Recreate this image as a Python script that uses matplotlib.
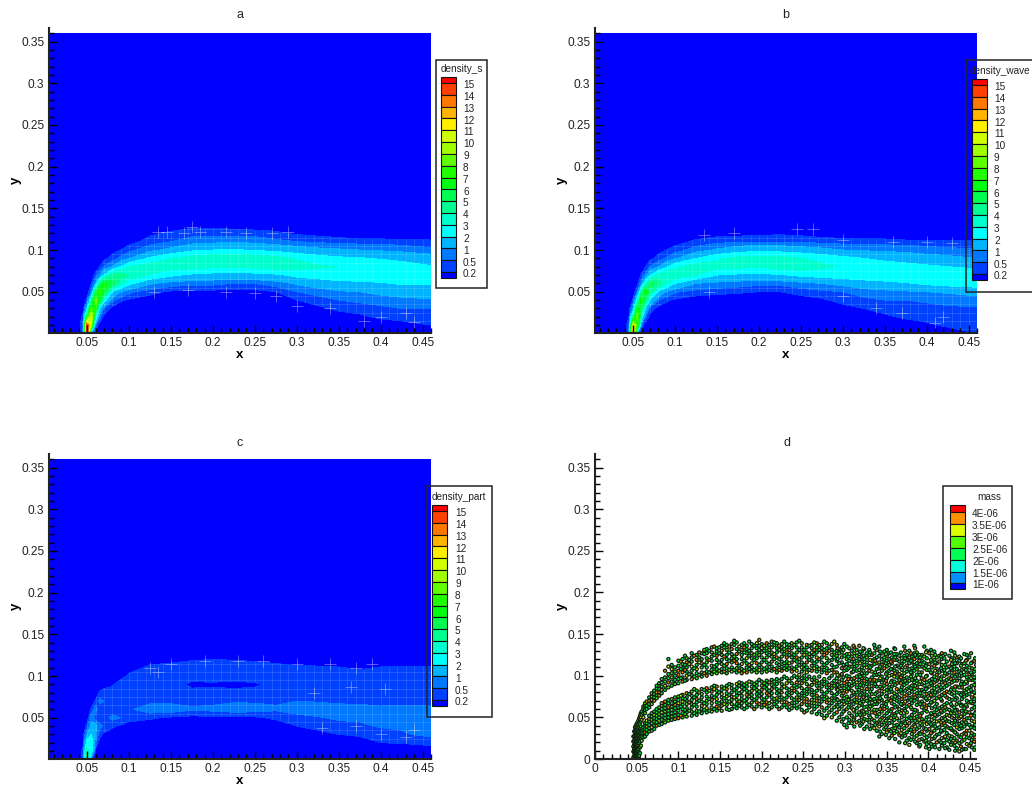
import matplotlib
matplotlib.use("Agg")
import matplotlib.pyplot as plt
from matplotlib.colors import BoundaryNorm, ListedColormap
from matplotlib.patches import Rectangle
from matplotlib.ticker import FixedLocator, FuncFormatter, MultipleLocator
import numpy as np

plt.rcParams['font.family'] = ['Liberation Sans', 'DejaVu Sans']

#----------------------------------------- data -------------------------------------
density_levels = [0.2, 0.5, 1, 2, 3, 4, 5, 6, 7, 8, 9, 10, 11, 12, 13, 14, 15]
density_colors = ['#0000ff', '#0040ff', '#0078ff', '#00b4ff', '#00ffff', '#00ffcc', '#00ff90', '#00ff50',
                  '#00ff10', '#20ff00', '#60ff00', '#a0ff00', '#d0ff00', '#ffee00', '#ffb400', '#ff7800',
                  '#ff4000', '#ff0000']
mass_levels = [1e-6, 1.5e-6, 2e-6, 2.5e-6, 3e-6, 3.5e-6, 4e-6]
mass_colors = ['#0000ff', '#0090ff', '#00ffdc', '#00ff50', '#50ff00', '#dcff00', '#ff9000', '#ff0000']
mass_labels = ['1E-06', '1.5E-06', '2E-06', '2.5E-06', '3E-06', '3.5E-06', '4E-06']

grid_x = [0.04, 0.045, 0.05, 0.055, 0.06, 0.065, 0.07, 0.08, 0.09, 0.1, 0.125, 0.15, 0.175, 0.2, 0.225,
          0.25, 0.275, 0.3, 0.325, 0.35, 0.375, 0.4, 0.425, 0.46]
grid_y = [0, 0.01, 0.02, 0.03, 0.04, 0.05, 0.06, 0.07, 0.08, 0.09, 0.1, 0.11, 0.12, 0.13]

# one row per grid_x value, columns follow grid_y
density_s = [
    [0, 0, 0, 0, 0, 0, 0, 0, 0, 0, 0, 0, 0, 0],
    [.5, .6, .3, 0, 0, 0, 0, 0, 0, 0, 0, 0, 0, 0],
    [16, 15, 6, 1.5, .3, 0, 0, 0, 0, 0, 0, 0, 0, 0],
    [1, 9, 11, 8, 3, .6, .2, 0, 0, 0, 0, 0, 0, 0],
    [0, .5, 3, 7, 9, 5, 1, .3, 0, 0, 0, 0, 0, 0],
    [0, 0, .6, 2, 6, 8, 4, .8, .2, 0, 0, 0, 0, 0],
    [0, 0, .1, .5, 2.5, 6, 6.5, 2, .5, .1, 0, 0, 0, 0],
    [0, 0, 0, .1, .6, 2, 5.5, 4.2, 1, .3, .1, 0, 0, 0],
    [0, 0, 0, 0, .25, 1, 3.5, 4.5, 2, .6, .2, 0, 0, 0],
    [0, 0, 0, 0, .15, .6, 2.3, 4, 3, 1, .35, .1, 0, 0],
    [0, 0, 0, 0, .05, .3, 1.1, 2.9, 3.6, 2.2, .8, .3, .15, 0],
    [0, 0, 0, 0, 0, .15, .7, 2.2, 3.5, 3, 1.2, .5, .25, .05],
    [0, 0, 0, 0, 0, .1, .6, 1.8, 3.4, 3.5, 1.8, .7, .35, .1],
    [0, 0, 0, 0, 0, .1, .6, 1.6, 3.2, 3.8, 2, .8, .35, .1],
    [0, 0, 0, 0, 0, .1, .5, 1.5, 3.1, 3.9, 2.1, .9, .3, .1],
    [0, 0, 0, 0, 0, .1, .5, 1.6, 3.3, 3.7, 1.9, .8, .3, .05],
    [0, 0, 0, 0, .05, .2, .7, 1.8, 3.5, 3.4, 1.7, .6, .25, .05],
    [0, 0, 0, 0, .2, .5, 1.1, 2.3, 3.4, 2.9, 1.4, .5, .15, 0],
    [0, 0, 0, .15, .3, .7, 1.4, 2.5, 3.1, 2.5, 1.2, .4, .1, 0],
    [0, 0, .1, .25, .5, .9, 1.7, 2.6, 3, 2.2, 1.1, .35, .05, 0],
    [0, 0, .15, .3, .6, 1, 1.8, 2.6, 2.9, 2.1, 1, .3, 0, 0],
    [0, .05, .25, .4, .7, 1.2, 1.9, 2.7, 2.8, 1.9, .9, .3, 0, 0],
    [0, .1, .3, .5, .8, 1.4, 2.1, 2.6, 2.5, 1.7, .8, .28, 0, 0],
    [.05, .2, .3, .5, .9, 1.5, 2.1, 2.4, 2.1, 1.4, .6, .25, 0, 0],
]
density_wave = [
    [0, 0, 0, 0, 0, 0, 0, 0, 0, 0, 0, 0, 0, 0],
    [.4, .5, .2, 0, 0, 0, 0, 0, 0, 0, 0, 0, 0, 0],
    [13, 11, 4, 1, .25, 0, 0, 0, 0, 0, 0, 0, 0, 0],
    [1, 7, 9, 6.5, 2.5, .5, .1, 0, 0, 0, 0, 0, 0, 0],
    [0, .4, 2.5, 5.5, 7.5, 4, .8, .25, 0, 0, 0, 0, 0, 0],
    [0, 0, .5, 1.6, 4.5, 7, 3, .7, .2, 0, 0, 0, 0, 0],
    [0, 0, .1, .4, 2, 4.5, 5.5, 1.8, .5, .1, 0, 0, 0, 0],
    [0, 0, 0, .1, .5, 1.8, 4.5, 3.3, .9, .3, .1, 0, 0, 0],
    [0, 0, 0, 0, .25, .9, 3.2, 4, 1.8, .55, .2, 0, 0, 0],
    [0, 0, 0, 0, .15, .55, 2, 3.8, 2.8, .9, .3, .1, 0, 0],
    [0, 0, 0, 0, .05, .35, 1, 3, 3.6, 2, .7, .25, .05, 0],
    [0, 0, 0, 0, 0, .3, .8, 2, 3.4, 2.8, 1.1, .35, .1, 0],
    [0, 0, 0, 0, 0, .25, .7, 1.8, 3.3, 3.3, 1.5, .4, .1, 0],
    [0, 0, 0, 0, 0, .2, .6, 1.7, 3.1, 3.5, 1.7, .45, .12, 0],
    [0, 0, 0, 0, 0, .2, .6, 1.9, 3.5, 3.4, 1.6, .45, .15, .05],
    [0, 0, 0, 0, .08, .3, .8, 2.2, 3.6, 3.1, 1.4, .4, .12, .05],
    [0, 0, 0, 0, .15, .4, 1, 2.4, 3.2, 2.7, 1.2, .35, .05, 0],
    [0, 0, 0, .1, .3, .5, 1.2, 2.6, 2.9, 2.3, 1, .3, .05, 0],
    [0, 0, .05, .2, .4, .7, 1.5, 2.7, 2.7, 2, .9, .3, 0, 0],
    [0, 0, .15, .3, .5, .8, 1.7, 2.8, 2.6, 1.7, .85, .3, 0, 0],
    [0, .05, .25, .35, .5, .9, 1.9, 2.8, 2.4, 1.5, .8, .25, 0, 0],
    [0, .15, .3, .4, .55, 1, 2.2, 2.9, 2.2, 1.3, .7, .25, 0, 0],
    [.05, .25, .35, .45, .6, 1.1, 2.4, 2.8, 2, 1.2, .6, .25, 0, 0],
    [.2, .3, .35, .45, .7, 1.3, 2.6, 2.6, 1.8, 1, .55, .22, 0, 0],
]
density_part = [
    [0, 0, 0, 0, 0, 0, 0, 0, 0, 0, 0, 0, 0, 0],
    [.3, .3, .1, 0, 0, 0, 0, 0, 0, 0, 0, 0, 0, 0],
    [4.5, 4, 2.5, 1, .3, 0, 0, 0, 0, 0, 0, 0, 0, 0],
    [.3, 2.5, 3, 2, 1.2, .8, .25, 0, 0, 0, 0, 0, 0, 0],
    [0, .1, .5, 1, 1.2, .3, .7, .25, 0, 0, 0, 0, 0, 0],
    [0, 0, .05, .3, .6, .25, .3, .6, .25, 0, 0, 0, 0, 0],
    [0, 0, 0, .15, .45, .35, .2, .5, .3, .1, 0, 0, 0, 0],
    [0, 0, 0, .05, .25, .6, .3, .3, .35, .15, 0, 0, 0, 0],
    [0, 0, 0, 0, .15, .5, .4, .35, .4, .35, .1, 0, 0, 0],
    [0, 0, 0, 0, .05, .35, .45, .35, .35, .4, .25, .1, 0, 0],
    [0, 0, 0, 0, 0, .25, .7, .4, .35, .35, .4, .25, .1, 0],
    [0, 0, 0, 0, 0, .15, .7, .4, .35, .4, .35, .3, .12, 0],
    [0, 0, 0, 0, 0, .1, .55, .4, .3, .12, .35, .3, .18, 0],
    [0, 0, 0, 0, 0, .12, .6, .4, .3, .15, .35, .35, .2, 0],
    [0, 0, 0, 0, 0, .1, .7, .45, .3, .1, .35, .35, .18, 0],
    [0, 0, 0, 0, 0, .15, .65, .45, .3, .15, .4, .35, .15, 0],
    [0, 0, 0, 0, .05, .25, .55, .45, .35, .3, .35, .3, .1, 0],
    [0, 0, 0, 0, .2, .35, .7, .5, .35, .35, .35, .25, .05, 0],
    [0, 0, 0, .1, .3, .45, .8, .45, .35, .35, .3, .25, 0, 0],
    [0, 0, 0, .2, .3, .6, .7, .4, .35, .35, .3, .22, 0, 0],
    [0, 0, .05, .25, .4, .6, .65, .4, .35, .4, .35, .15, 0, 0],
    [0, 0, .2, .3, .55, .6, .6, .35, .35, .35, .3, .22, 0, 0],
    [0, 0, .22, .45, .55, .55, .65, .35, .3, .35, .3, .25, 0, 0],
    [0, .1, .25, .6, .6, .6, .6, .35, .3, .3, .3, .25, 0, 0],
]

# pale mesh crosses sticking out of the bands
cross_a_x = [.135, .145, .165, .175, .185, .215, .24, .27, .29, .13, .17, .215, .25, .275, .3, .34, .38, .4, .43, .44]
cross_a_y = [.122, .122, .12, .128, .122, .122, .12, .12, .122, .05, .052, .05, .048, .045, .033, .03, .015, .02, .025, .014]
cross_b_x = [.135, .17, .245, .265, .3, .36, .4, .43, .14, .3, .34, .37, .42, .41]
cross_b_y = [.118, .12, .125, .125, .112, .11, .11, .108, .05, .045, .03, .025, .02, .012]
cross_c_x = [.125, .135, .15, .19, .23, .26, .3, .34, .37, .39, .405, .365, .33, .37, .4, .43, .44, .32]
cross_c_y = [.11, .105, .115, .118, .118, .118, .115, .115, .11, .115, .085, .087, .038, .04, .03, .027, .035, .08]

# panel d particles: x of each column, y of its points in thousandths
col_x = [.046, .047, .048, .049, .05, .051, .052, .053, .054, .055, .056, .058, .06, .062, .065, .068, .071,
         .074, .077, .08, .084, .088, .092, .096, .1, .105, .11, .116, .122, .128, .134, .14, .146, .152, .158,
         .164, .17, .176, .182, .188, .194, .2, .206, .212, .218, .224, .23, .236, .242, .248, .254, .26, .266,
         .272, .278, .284, .29, .296, .302, .308, .314, .32, .326, .332, .338, .344, .35, .356, .362, .368,
         .374, .38, .386, .392, .398, .404, .41, .416, .422, .428, .434, .44, .446, .452, .457]
col_y = [
    [2, 9, 15, 21, 27], [0, 4, 8, 12, 17, 22, 27, 33], [1, 3, 6, 9, 12, 15, 18, 21, 25, 29, 34, 38],
    [0, 2, 4, 7, 10, 13, 16, 19, 22, 26, 30, 35, 40], [1, 3, 5, 8, 11, 14, 17, 20, 24, 28, 32, 37, 42],
    [0, 2, 4, 6, 9, 12, 15, 18, 21, 25, 29, 33, 38, 44], [1, 3, 6, 9, 12, 16, 20, 24, 28, 32, 36, 41, 46],
    [0, 4, 8, 14, 19, 24, 29, 33, 38, 44, 49], [7, 14, 21, 26, 31, 36, 42, 47, 52],
    [16, 24, 29, 34, 39, 45, 50, 55], [22, 27, 31, 36, 47, 53, 57], [26, 31, 35, 38, 50, 55, 60, 63],
    [27, 32, 36, 40, 43, 55, 59, 64, 67], [30, 35, 39, 43, 46, 60, 64, 69],
    [33, 37, 41, 45, 48, 52, 62, 66, 70, 74], [34, 38, 43, 47, 51, 55, 66, 71, 75, 79],
    [36, 40, 45, 49, 53, 57, 70, 74, 78, 82], [40, 44, 48, 52, 56, 60, 73, 77, 80, 85, 88],
    [41, 46, 50, 54, 58, 62, 76, 80, 84, 88, 91], [42, 47, 52, 56, 60, 64, 67, 79, 83, 87, 92, 96],
    [44, 49, 53, 57, 61, 65, 69, 83, 88, 93, 98, 106], [46, 50, 54, 58, 62, 67, 71, 86, 92, 97, 102, 111, 120],
    [47, 51, 55, 59, 63, 67, 72, 88, 93, 98, 103, 108, 113], [48, 52, 56, 61, 65, 69, 74, 90, 95, 100, 105, 110],
    [49, 53, 58, 62, 67, 71, 75, 91, 96, 101, 106, 112, 118], [50, 55, 60, 65, 69, 73, 77, 93, 98, 104, 109, 114, 120],
    [51, 56, 61, 66, 70, 74, 79, 95, 100, 105, 110, 116, 121], [52, 57, 62, 66, 71, 76, 81, 96, 101, 106, 111, 117, 122, 127],
    [53, 58, 63, 68, 72, 77, 82, 97, 103, 108, 113, 119, 125], [55, 60, 64, 69, 74, 78, 84, 99, 104, 110, 115, 120, 127],
    [56, 61, 66, 70, 75, 80, 85, 100, 105, 110, 116, 121, 127, 132], [57, 62, 67, 71, 76, 81, 86, 102, 107, 112, 118, 123, 128, 134],
    [58, 63, 68, 72, 77, 82, 87, 103, 108, 113, 119, 124, 129, 133], [58, 64, 69, 74, 78, 83, 87, 104, 108, 114, 119, 125, 130, 136],
    [60, 65, 70, 75, 79, 84, 88, 103, 109, 114, 120, 125, 131, 137], [60, 66, 71, 75, 80, 85, 89, 105, 110, 116, 121, 126, 132, 138],
    [61, 66, 71, 76, 80, 85, 90, 104, 109, 115, 120, 126, 132, 140], [62, 67, 72, 76, 81, 86, 91, 103, 108, 114, 120, 125, 131, 137],
    [62, 67, 72, 77, 82, 87, 91, 104, 110, 115, 121, 127, 132, 136], [63, 68, 73, 77, 82, 87, 92, 105, 110, 115, 121, 127, 133, 138],
    [63, 68, 73, 78, 83, 88, 92, 104, 109, 115, 121, 127, 133, 139], [62, 68, 73, 78, 83, 88, 93, 104, 110, 116, 122, 128, 133, 138],
    [63, 68, 74, 79, 84, 89, 94, 105, 110, 116, 122, 127, 133, 139], [62, 69, 74, 79, 84, 89, 95, 106, 111, 117, 123, 128, 134, 141],
    [63, 68, 73, 79, 84, 90, 96, 104, 109, 115, 122, 128, 133, 139], [62, 68, 74, 80, 85, 90, 96, 106, 111, 117, 123, 129, 134, 138],
    [62, 68, 74, 79, 85, 91, 97, 107, 112, 117, 122, 128, 134, 138], [61, 67, 73, 79, 85, 91, 97, 105, 110, 116, 122, 127, 133, 139],
    [61, 68, 74, 80, 86, 92, 98, 106, 111, 117, 122, 128, 134, 140], [59, 66, 73, 79, 85, 91, 97, 105, 110, 116, 122, 128, 134, 139],
    [58, 65, 72, 78, 84, 90, 96, 104, 110, 116, 122, 128, 134, 137], [56, 64, 71, 77, 83, 89, 95, 106, 112, 118, 123, 128, 133, 137],
    [54, 63, 70, 76, 82, 88, 94, 105, 111, 117, 122, 128, 134, 139], [53, 62, 69, 75, 81, 87, 93, 104, 110, 116, 122, 128, 133, 137],
    [52, 61, 68, 74, 80, 86, 92, 103, 109, 115, 121, 127, 133, 139], [50, 59, 67, 73, 79, 85, 91, 100, 107, 113, 119, 125, 131, 138],
    [46, 56, 65, 72, 78, 84, 90, 97, 104, 111, 118, 124, 130, 137], [45, 54, 63, 70, 76, 82, 88, 95, 102, 109, 116, 122, 128, 134],
    [38, 50, 60, 68, 75, 81, 87, 93, 100, 107, 114, 120, 126, 135], [43, 52, 61, 69, 76, 82, 88, 96, 104, 111, 117, 123, 130],
    [44, 53, 61, 68, 74, 80, 86, 92, 99, 106, 112, 118, 124, 131], [42, 50, 58, 65, 72, 79, 85, 91, 97, 103, 110, 117, 123, 129],
    [39, 47, 56, 63, 70, 77, 84, 90, 96, 103, 110, 116, 122, 127], [40, 48, 56, 64, 71, 78, 84, 91, 98, 105, 112, 118, 125],
    [34, 43, 51, 59, 66, 73, 80, 87, 94, 101, 108, 115, 122, 131], [30, 41, 49, 57, 64, 71, 78, 85, 92, 99, 106, 113, 120, 127],
    [32, 40, 48, 55, 62, 69, 76, 83, 90, 97, 104, 111, 118, 124, 131], [28, 36, 44, 52, 60, 67, 74, 81, 87, 94, 101, 108, 115, 122],
    [33, 41, 49, 56, 63, 70, 77, 84, 91, 98, 105, 112, 119, 126], [26, 35, 43, 50, 58, 65, 72, 79, 86, 93, 100, 107, 114, 121],
    [22, 32, 40, 48, 56, 63, 70, 77, 84, 91, 98, 105, 112, 119, 125], [30, 38, 46, 53, 60, 67, 74, 81, 88, 95, 102, 109, 116, 123],
    [19, 28, 36, 44, 51, 58, 65, 72, 79, 86, 94, 101, 108, 115, 122, 128], [24, 33, 41, 48, 55, 62, 69, 76, 83, 90, 97, 104, 111, 118, 125],
    [18, 26, 34, 42, 50, 57, 64, 71, 78, 85, 92, 100, 107, 114, 121, 130], [15, 24, 32, 40, 47, 54, 61, 68, 75, 82, 89, 96, 103, 110, 117, 124],
    [20, 29, 37, 45, 52, 59, 66, 73, 80, 87, 94, 101, 108, 115, 122], [16, 25, 33, 41, 49, 56, 63, 70, 77, 84, 92, 99, 106, 113, 120, 127],
    [14, 23, 31, 39, 46, 53, 60, 67, 74, 81, 88, 95, 102, 110, 117], [19, 27, 35, 43, 50, 57, 64, 71, 78, 85, 92, 100, 107, 114, 121],
    [13, 22, 30, 38, 45, 52, 59, 66, 73, 80, 87, 94, 101, 108, 115, 122], [11, 21, 29, 37, 44, 51, 58, 65, 72, 79, 86, 93, 100, 107, 114],
    [18, 26, 34, 42, 49, 56, 63, 70, 77, 84, 91, 98, 105, 112, 119, 125], [14, 23, 31, 39, 46, 53, 60, 67, 74, 81, 88, 95, 102, 109, 116],
    [20, 28, 36, 43, 50, 57, 64, 71, 78, 85, 92, 99, 106, 113, 120],
]
# second pass of particles between the columns above
col2_x = [.103, .108, .113, .119, .125, .131, .137, .143, .149, .155, .161, .167, .173, .179, .185, .191, .197, .203,
          .209, .215, .221, .227, .233, .239, .245, .251, .257, .263, .269, .275, .281, .287, .293, .299, .305, .311,
          .317, .323, .329, .335, .341, .347, .353, .359, .365, .371, .377, .383, .389, .395, .401, .407, .413, .419,
          .425, .431, .437, .443, .449, .455]
col2_y = [
    [52, 63, 76, 97, 108, 117], [54, 59, 72, 94, 107, 113, 124], [58, 68, 78, 102, 114, 119], [55, 65, 74, 84, 99, 109, 124],
    [57, 70, 80, 101, 116, 122, 128], [59, 67, 83, 103, 113, 126, 131], [58, 72, 82, 104, 119, 130], [60, 74, 84, 88, 105, 111, 125, 135],
    [61, 67, 80, 106, 116, 127, 134], [66, 73, 85, 105, 112, 123, 134, 139], [59, 69, 77, 90, 107, 118, 128, 135],
    [63, 74, 83, 107, 118, 123, 137, 142], [64, 69, 79, 88, 92, 106, 112, 129, 135], [60, 70, 84, 89, 106, 118, 128, 134, 139],
    [65, 75, 80, 93, 108, 113, 124, 130, 141], [60, 71, 85, 90, 107, 119, 125, 136], [66, 76, 81, 95, 107, 113, 125, 131, 136, 143],
    [65, 71, 86, 91, 108, 119, 130, 136], [60, 67, 77, 82, 92, 107, 114, 125, 131, 137], [66, 72, 87, 93, 108, 120, 126, 137, 140],
    [60, 71, 77, 82, 94, 107, 113, 120, 131, 136], [65, 72, 87, 99, 109, 115, 126, 132, 141], [59, 66, 77, 83, 94, 109, 115, 125, 131, 137],
    [64, 71, 82, 88, 100, 108, 119, 125, 137], [63, 71, 77, 88, 95, 101, 113, 120, 131, 142], [56, 69, 76, 82, 94, 100, 108, 113, 125, 131],
    [62, 68, 81, 87, 99, 107, 119, 126, 136], [60, 67, 74, 80, 92, 98, 109, 115, 126, 131, 140], [57, 66, 73, 85, 91, 99, 108, 120, 131, 137],
    [49, 58, 72, 78, 90, 96, 107, 113, 125, 131, 141], [56, 64, 71, 83, 89, 97, 106, 118, 130, 135], [54, 62, 70, 76, 88, 94, 104, 110, 122, 128, 141],
    [50, 60, 68, 81, 87, 93, 100, 115, 127, 132], [41, 58, 66, 73, 85, 91, 106, 112, 124, 138], [47, 55, 65, 72, 84, 90, 99, 111, 118, 126, 133],
    [39, 49, 57, 71, 78, 90, 97, 108, 114, 127, 134], [46, 56, 64, 70, 83, 95, 101, 107, 120, 126, 136], [36, 48, 54, 62, 75, 81, 94, 100, 113, 120, 132],
    [44, 52, 60, 67, 74, 87, 93, 106, 112, 125, 131], [37, 46, 59, 66, 72, 88, 95, 101, 114, 120, 127, 137], [27, 39, 45, 54, 69, 75, 82, 95, 102, 109, 116, 124, 135],
    [36, 44, 52, 60, 67, 81, 88, 95, 109, 116, 122, 129], [25, 35, 43, 50, 58, 72, 80, 86, 100, 106, 113, 120, 127], [31, 40, 47, 54, 65, 72, 79, 93, 99, 106, 119, 126, 133],
    [20, 29, 38, 46, 60, 68, 74, 81, 95, 102, 110, 117, 124], [30, 37, 45, 52, 60, 67, 75, 89, 96, 103, 117, 124, 135], [17, 25, 35, 43, 50, 65, 73, 79, 86, 94, 108, 115, 122, 130],
    [26, 33, 41, 49, 56, 70, 77, 84, 92, 106, 113, 120, 127, 136], [15, 23, 31, 38, 47, 54, 68, 76, 83, 90, 104, 111, 118, 125], [21, 29, 37, 45, 59, 66, 74, 81, 88, 95, 109, 116, 123, 135],
    [12, 20, 28, 36, 44, 51, 65, 73, 79, 87, 94, 107, 114, 127], [17, 25, 34, 42, 49, 56, 70, 77, 85, 92, 99, 112, 119, 129], [12, 22, 30, 38, 46, 54, 61, 75, 82, 89, 97, 104, 117, 124],
    [19, 26, 35, 43, 50, 58, 65, 79, 86, 93, 100, 107, 121], [11, 21, 28, 37, 45, 52, 59, 72, 80, 90, 97, 104, 111, 124], [16, 25, 33, 41, 48, 55, 62, 76, 83, 94, 104, 111, 118, 128],
    [9, 19, 27, 36, 42, 49, 56, 68, 79, 86, 97, 105, 118, 123], [12, 23, 31, 39, 47, 54, 61, 75, 82, 90, 101, 108, 115, 126], [16, 25, 34, 41, 49, 56, 68, 78, 86, 95, 102, 110, 122],
    [11, 21, 29, 37, 45, 52, 62, 72, 80, 89, 98, 105, 118],
]
# third pass, the crowded right hand part
col3_x = [.291, .298, .304, .31, .318, .322, .33, .336, .342, .349, .355, .36, .367, .372, .379, .384, .39, .397, .403,
          .408, .415, .42, .427, .432, .439, .445, .451, .456]
col3_y = [
    [63, 71, 83, 89, 101, 120, 133], [48, 57, 69, 79, 98, 113, 131], [43, 62, 71, 85, 96, 109, 123], [47, 59, 66, 80, 93, 105, 120, 136],
    [40, 53, 67, 77, 89, 99, 115, 129], [45, 57, 69, 74, 88, 106, 124, 133], [36, 50, 63, 72, 81, 95, 110, 119, 128], [41, 55, 69, 78, 90, 104, 118, 133],
    [33, 47, 60, 73, 87, 97, 111, 129], [29, 38, 46, 66, 75, 94, 102, 115, 126], [33, 49, 57, 70, 84, 92, 108, 117, 128], [24, 37, 52, 62, 75, 89, 103, 111, 122, 132],
    [31, 41, 55, 66, 83, 91, 98, 112, 128], [19, 28, 43, 58, 69, 82, 94, 110, 121, 130], [23, 35, 49, 62, 71, 85, 99, 104, 118, 127], [21, 39, 46, 59, 74, 88, 97, 111, 125, 133],
    [17, 30, 43, 52, 66, 79, 93, 101, 114, 122], [14, 22, 36, 47, 61, 73, 84, 99, 112, 128], [18, 31, 42, 55, 68, 77, 91, 104, 119, 131], [14, 27, 39, 53, 63, 80, 95, 106, 116, 125],
    [20, 34, 44, 58, 72, 86, 96, 109, 123], [13, 27, 40, 48, 62, 76, 91, 103, 113, 126], [17, 24, 37, 55, 66, 83, 96, 109, 119, 130], [10, 20, 32, 46, 58, 71, 87, 99, 115, 124],
    [15, 26, 40, 51, 64, 77, 90, 103, 112, 121], [12, 30, 44, 57, 65, 80, 93, 107, 118], [19, 28, 38, 52, 69, 83, 97, 104, 115, 127], [14, 26, 41, 55, 66, 76, 94, 108, 121],
]
# masses come in a few classes, most particles green with some orange and yellow
mass_class_values = [2.2e-6, 2.7e-6, 3.2e-6, 3.7e-6]
mass_classes = '0010030010203000300100103000201003300100020130300010010030200310003001300200'

W, H = 1032, 787
fig = plt.figure(figsize=(W / 100, H / 100), dpi=100)


def axes_px(left, right, top, bottom):
    return fig.add_axes([left / W, 1 - bottom / H, (right - left) / W, (bottom - top) / H])


def style_axes(ax, title, xlim, xticks, yticks, title_pad, title_x=0.5):
    ax.set_xlim(*xlim)
    ax.set_ylim(yticks[0] if yticks[0] == 0 else 0.0005, 0.3663)
    ax.xaxis.set_major_locator(FixedLocator(xticks))
    ax.yaxis.set_major_locator(FixedLocator(yticks))
    ax.xaxis.set_minor_locator(MultipleLocator(0.01))
    ax.yaxis.set_minor_locator(MultipleLocator(0.01))
    fmt = FuncFormatter(lambda v, p: ('%.2f' % v).rstrip('0').rstrip('.'))
    ax.xaxis.set_major_formatter(fmt)
    ax.yaxis.set_major_formatter(fmt)
    ax.tick_params(which='major', direction='in', length=6, width=1, labelsize=8.6, labelcolor='#222222')
    ax.tick_params(axis='x', which='major', pad=3.2)
    ax.tick_params(axis='y', which='major', pad=3.5)
    ax.tick_params(which='minor', direction='in', length=3.6, width=1)
    ax.spines['top'].set_visible(False)
    ax.spines['right'].set_visible(False)
    ax.spines['left'].set_linewidth(1.5)
    ax.spines['bottom'].set_linewidth(1.5)
    ax.spines['left'].set_color('#222222')
    ax.spines['bottom'].set_color('#222222')
    ax.set_xlabel('x', fontsize=9.5, fontweight='bold', va='center')
    ax.set_ylabel('y', fontsize=9.5, fontweight='bold', va='center')
    ax.xaxis.set_label_coords(0.5, -22.5 / 305)
    ax.yaxis.set_label_coords(-33 / 382, 0.5)
    ax.set_title(title, fontsize=9, pad=title_pad, x=title_x, color='#222222')


def density_panel(ax, table, title, cross_x, cross_y, title_pad):
    xs = [0.0045] + grid_x
    ys = grid_y + [0.14, 0.36]
    z = np.pad(np.array(table, dtype=float).T, ((0, 2), (1, 0)))
    levels = [-1] + density_levels + [100]
    ax.contourf(xs, ys, z, levels=levels, colors=density_colors, zorder=1)
    # the mesh shows through as pale lines wherever the density is above the first level
    outline = ax.contourf(xs, ys, z, levels=[0.2, 100], alpha=0, zorder=1)
    clip = outline.get_paths()[0]
    mesh = [ax.vlines(np.arange(0.04, 0.46, 0.01), 0, 0.14, colors='white', lw=0.4, alpha=0.22, zorder=1.2),
            ax.hlines(np.arange(0.005, 0.14, 0.01), 0.04, 0.46, colors='white', lw=0.4, alpha=0.22, zorder=1.2)]
    for m in mesh:
        m.set_clip_path(clip, ax.transData)
    ax.plot(cross_x, cross_y, ls='none', marker='+', ms=9, mew=0.5, color='white', alpha=0.5, zorder=1.3)
    style_axes(ax, title, (0.0045, 0.46), np.arange(1, 10) * 0.05, np.arange(1, 8) * 0.05, title_pad)


#------------------------------------------- panels ------------------------------------------------------
ax_a = axes_px(49, 431, 28, 333)
density_panel(ax_a, density_s, 'a', cross_a_x, cross_a_y, 7)
ax_b = axes_px(595, 977, 28, 333)
density_panel(ax_b, density_wave, 'b', cross_b_x, cross_b_y, 7)
ax_c = axes_px(49, 431, 454, 759)
density_panel(ax_c, density_part, 'c', cross_c_x, cross_c_y, 5.5)

ax_d = axes_px(595, 976, 454, 759)
all_x = col_x + col2_x + col3_x
all_y = col_y + col2_y + col3_y
px = np.concatenate([np.full(len(c), x) for x, c in zip(all_x, all_y)])
py = np.concatenate([np.array(c) / 1000 for c in all_y])
codes = np.resize([int(ch) for ch in mass_classes], len(px))
pm = np.array(mass_class_values)[codes]
mass_bounds = [0] + mass_levels + [1]
ax_d.scatter(px, py, c=pm, cmap=ListedColormap(mass_colors), norm=BoundaryNorm(mass_bounds, len(mass_colors)),
             s=5, edgecolors='#102010', linewidths=0.9, zorder=2)
style_axes(ax_d, 'd', (0, 0.457), np.arange(0, 10) * 0.05, np.arange(0, 8) * 0.05, 5.5, 0.504)

#------------------------------------------- legends -----------------------------------------------------
overlay = fig.add_axes([0, 0, 1, 1], zorder=10)
overlay.set_xlim(0, W)
overlay.set_ylim(H, 0)
overlay.axis('off')


def legend(box, cell_x, edges, colors, labels, title, title_x, title_y, label_x):
    overlay.add_patch(Rectangle((box[0], box[2]), box[1] - box[0], box[3] - box[2], fill=False,
                                edgecolor='#222222', lw=1.1))
    for i, col in enumerate(colors):
        overlay.add_patch(Rectangle((cell_x, edges[i]), 15, edges[i + 1] - edges[i], facecolor=col,
                                    edgecolor='#111111', lw=0.8))
    for y, lab in zip(edges[1:-1], labels):
        overlay.text(label_x, y + 2.2, lab, fontsize=7.2, va='center', ha='left', color='#222222')
    overlay.text(title_x, title_y, title, fontsize=7.2, va='center', ha='center', color='#222222')


density_labels = ['15', '14', '13', '12', '11', '10', '9', '8', '7', '6', '5', '4', '3', '2', '1', '0.5', '0.2']


def density_edges(top):
    return [top] + [top + 6 + 11.82 * i for i in range(17)] + [top + 6 + 11.82 * 16 + 6]


legend((436, 487, 60, 288), 441, density_edges(77), density_colors[::-1], density_labels,
       'density_s', 461.5, 69, 463)
legend((966, 1040, 60, 292), 972, density_edges(79), density_colors[::-1], density_labels,
       'density_wave', 1000, 71, 994)
legend((427, 491.5, 486, 717), 432, density_edges(505), density_colors[::-1], density_labels,
       'density_part', 459, 497, 455)
legend((943, 1012, 486, 599), 949.5, [505, 511.7, 523.7, 535.7, 547.5, 559.5, 571.5, 583.3, 589],
       mass_colors[::-1], mass_labels[::-1], 'mass', 989, 497, 972)

fig.savefig('out.png', dpi=100)
